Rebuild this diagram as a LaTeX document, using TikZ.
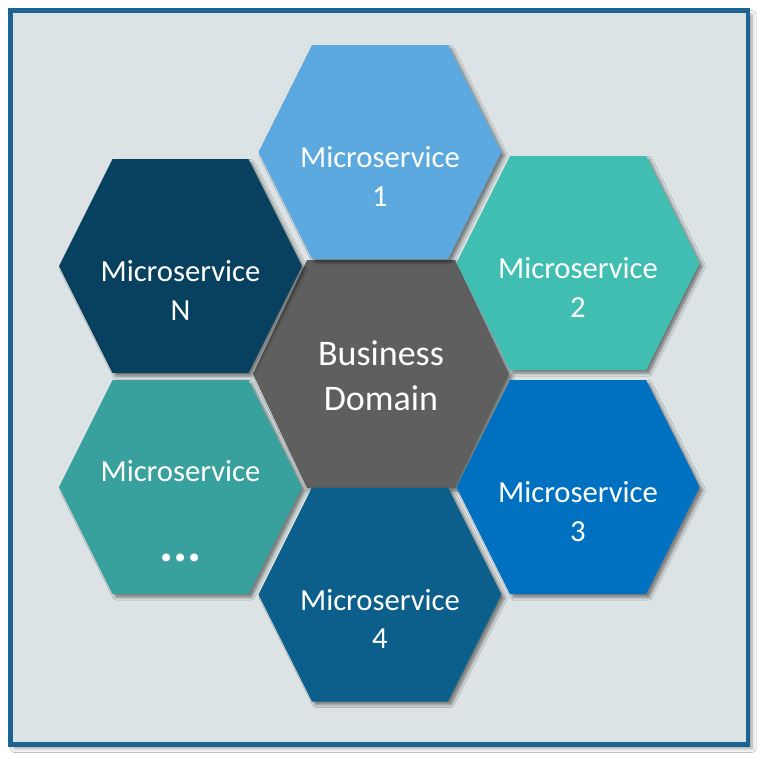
\documentclass[tikz,border=0pt]{standalone}
\usepackage{fontspec}
\setmainfont{Carlito}
\usetikzlibrary{shadows.blur}
\definecolor{bgc}{HTML}{DCE3E4}
\definecolor{framec}{HTML}{1C6592}
\definecolor{cOne}{HTML}{5BA9DF}
\definecolor{cTwo}{HTML}{40BEB2}
\definecolor{cThree}{HTML}{0070C0}
\definecolor{cFour}{HTML}{0D5F8B}
\definecolor{cN}{HTML}{08405F}
\definecolor{cDots}{HTML}{38A09D}
\definecolor{cCenter}{HTML}{5F5F5F}
\begin{document}
\begin{tikzpicture}[x=0.75pt,y=-0.75pt,
  hexshadow/.style={blur shadow={shadow xshift=2.5pt,shadow yshift=-2.5pt,shadow blur radius=2pt,shadow blur steps=6,shadow opacity=45}},
  framestyle/.style={fill=bgc,draw=framec,line width=3.2pt,blur shadow={shadow xshift=3pt,shadow yshift=-3pt,shadow blur radius=3pt,shadow opacity=40}},
  lbl/.style={text=white,align=center,font=\fontsize{23}{29}\selectfont,inner sep=0pt},
  biglbl/.style={text=white,align=center,font=\fontsize{27}{34}\selectfont,inner sep=0pt},
  dotlbl/.style={text=white,font=\fontsize{40}{40}\selectfont\bfseries,inner sep=0pt}]
\fill[white] (0,0) rectangle (768,765);
\useasboundingbox (0,0) rectangle (768,765);
\path[framestyle] (10.5,10.5) rectangle (748,744.5);
% center hexagon
\begin{scope}[shift={(381,374)}]
  \fill[cCenter,hexshadow] (-128,0) -- (-74,-114) -- (74,-114) -- (128,0) -- (74,114) -- (-74,114) -- cycle;
\end{scope}
% outer hexagons
\foreach \cx/\cy/\col in {380/152/cOne, 578/263/cTwo, 578/487/cThree, 380/594.5/cFour, 180.5/487/cDots, 180.5/266/cN}{
  \begin{scope}[shift={(\cx,\cy)}]
    \fill[\col,hexshadow] (-121.5,0) -- (-68,-107) -- (68,-107) -- (121.5,0) -- (68,107) -- (-68,107) -- cycle;
  \end{scope}
}
\node[biglbl] (bd) at (381,376) {Business\\Domain};
\node[lbl] (m1) at (380,176.5) {Microservice\\1};
\node[lbl] (m2) at (578,287.5) {Microservice\\2};
\node[lbl] (m3) at (578,511.5) {Microservice\\3};
\node[lbl] (m4) at (380,619) {Microservice\\4};
\node[lbl] (mN) at (180.5,290.5) {Microservice\\N};
\node[lbl,anchor=base] (mx) at (180.5,481) {Microservice};
\node[dotlbl,anchor=base] (mdots) at (180.5,561) {...};
\end{tikzpicture}
\end{document}
